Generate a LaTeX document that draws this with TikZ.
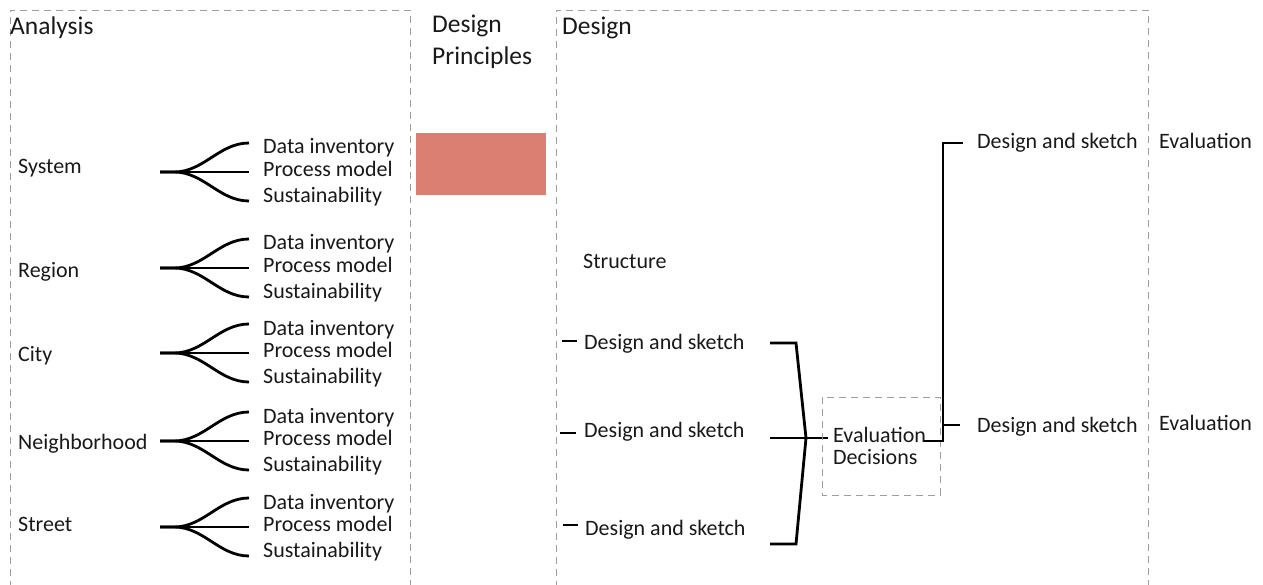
\documentclass[tikz,border=0pt]{standalone}
\usepackage{fontspec}
\setmainfont{Carlito}
\begin{document}
\begin{tikzpicture}[x=1pt,y=-1pt,
  frame/.style={draw=black!38,line width=0.9pt,dash pattern=on 7pt off 5pt},
  wire/.style={draw=black,line width=2.8pt},
  lbl/.style={anchor=base west,inner sep=0pt,text=black!90,font=\fontsize{22}{26}\selectfont},
  head/.style={anchor=base west,inner sep=0pt,text=black!90,font=\fontsize{25.5}{30}\selectfont}]
\useasboundingbox (0,0) rectangle (1263,585);

% column frames
\draw[frame] (10,600) -- (10,10) -- (410,10) -- (410,600);
\draw[frame] (556,600) -- (556,10) -- (1148,10) -- (1148,600);

% headings
\node[head] (hAnalysis) at (10,35) {Analysis};
\node[head] (hDP1) at (432,33) {Design};
\node[head] (hDP2) at (432,65) {Principles};
\node[head] (hDesign) at (562,35) {Design};

% design principles block
\fill[fill={rgb,255:red,219;green,127;blue,114}] (416,133) rectangle (546,195);

% analysis rows: level, fork height, label centre
\foreach \nm/\lab/\fy/\ly in {sys/System/172/166, reg/Region/268/269, cit/City/353/353, nei/Neighborhood/441/441, str/Street/527/523}{
  \node[lbl] (\nm) at (18,\ly+8) {\lab};
  \coordinate (\nm-o) at (160,\fy);
  \coordinate (\nm-a) at (249,\fy-29);
  \coordinate (\nm-b) at (249,\fy);
  \coordinate (\nm-c) at (249,\fy+29);
  \draw[wire] (\nm-o) -- (\nm-b);
  \draw[wire] (\nm-o) -- ++(14,0) .. controls +(30,0) and +(-30,0) .. (\nm-a);
  \draw[wire] (\nm-o) -- ++(14,0) .. controls +(30,0) and +(-30,0) .. (\nm-c);
  \node[lbl] (\nm-di) at (263,\fy-26+8) {Data inventory};
  \node[lbl] (\nm-pm) at (263,\fy-3.5+8) {Process model};
  \node[lbl] (\nm-su) at (263,\fy+22.5+8) {Sustainability};
}

% design column
\node[lbl] (struct) at (583,269) {Structure};
\node[lbl] (ds1) at (584,349) {Design and sketch};
\node[lbl] (ds2) at (584,437) {Design and sketch};
\node[lbl] (ds3) at (585,535) {Design and sketch};
\coordinate (d1a) at (562,341); \coordinate (d1b) at (577,341);
\coordinate (d2a) at (560,433); \coordinate (d2b) at (576,433);
\coordinate (d3a) at (563,525); \coordinate (d3b) at (578,525);
\draw[wire] (d1a) -- (d1b);
\draw[wire] (d2a) -- (d2b);
\draw[wire] (d3a) -- (d3b);

% bracket joining the three sketches
\coordinate (bt) at (770,343);
\coordinate (bm) at (770,438);
\coordinate (bb) at (770,544);
\coordinate (bp) at (806,438);
\coordinate (be) at (828,438);
\draw[wire,line join=miter] (bt) -- (796,343) -- (bp) -- (796,544) -- (bb);
\draw[wire] (bm) -- (be);

% evaluation box
\draw[frame] (822,397) rectangle (940,495);
\node[lbl] (ev) at (833,442) {Evaluation};
\node[lbl] (dec) at (833,464) {Decisions};

% second round
\node[lbl] (ds4) at (977,149) {Design and sketch};
\node[lbl] (ds5) at (977,432) {Design and sketch};
\node[lbl] (ev4) at (1159,149) {Evaluation};
\node[lbl] (ev5) at (1159,430) {Evaluation};
\coordinate (eo) at (924,441);
\coordinate (et) at (963,143);
\coordinate (eb) at (960,425);
\draw[wire,line join=miter] (eo) -- (943,441) -- (943,143) -- (et);
\draw[wire] (943,425) -- (eb);
\end{tikzpicture}
\end{document}
